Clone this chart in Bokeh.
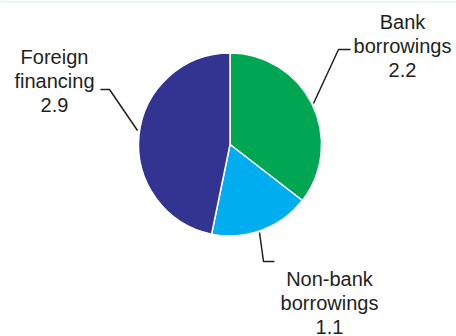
import math
from bokeh.plotting import figure
from bokeh.models import Range1d, Span, ColumnDataSource
from bokeh.core.properties import value
from bokeh.embed import file_html
from bokeh.resources import INLINE

# ---- data ----
categories = ["Bank borrowings", "Non-bank borrowings", "Foreign financing"]
values = [2.2, 1.1, 2.9]
label_lines = [["Bank", "borrowings"], ["Non-bank", "borrowings"], ["Foreign", "financing"]]
colors = ["#00A651", "#00AEEF", "#333391"]

# ---- layout (pixel-like coordinates, y measured upward) ----
W, H = 456, 336
cx, cy, r = 229.5, H - 144, 91.5
label_pos = [(402, H - 21), (329, H - 278), (54, H - 56)]   # first-line baseline
line_pitch = 24
leaders = [
    ([313, 338, 350], [H - 103, H - 49, H - 49]),
    ([259, 263, 274], [H - 232, H - 261, H - 261]),
    ([137, 109, 100], [H - 130, H - 89, H - 89]),
]
text_color = "#231F20"
font = value("Liberation Sans")

p = figure(width=W, height=H, output_backend="svg", toolbar_location=None,
           x_range=Range1d(0, W), y_range=Range1d(0, H), min_border=0)
p.axis.visible = False
p.grid.visible = False
p.outline_line_color = None
p.background_fill_color = "white"
p.border_fill_color = "white"

total = sum(values)
starts, ends = [], []
cum = 0.0
for v in values:
    prev = cum
    cum += v
    ends.append(math.pi / 2 - 2 * math.pi * prev / total)
    starts.append(math.pi / 2 - 2 * math.pi * cum / total)

src = ColumnDataSource(dict(start=starts, end=ends, color=colors, cat=categories))
p.wedge(x=cx, y=cy, radius=r, start_angle="start", end_angle="end",
        fill_color="color", line_color="white", line_width=1.5, source=src)

for (xs, ys) in leaders:
    p.line(xs, ys, line_color=text_color, line_width=1.5)

for i, (lines, v) in enumerate(zip(label_lines, values)):
    lx, ly = label_pos[i]
    all_lines = lines + [f"{v:.1f}"]
    p.text(x=[lx] * len(all_lines),
           y=[ly - k * line_pitch for k in range(len(all_lines))],
           text=all_lines, text_align="center", text_baseline="alphabetic",
           text_font=font, text_font_size="20px", text_color=text_color)

p.add_layout(Span(location=H - 1, dimension="width", line_color="#E3F4EE", line_width=2))

open("out.html", "w").write(file_html(p, INLINE))
